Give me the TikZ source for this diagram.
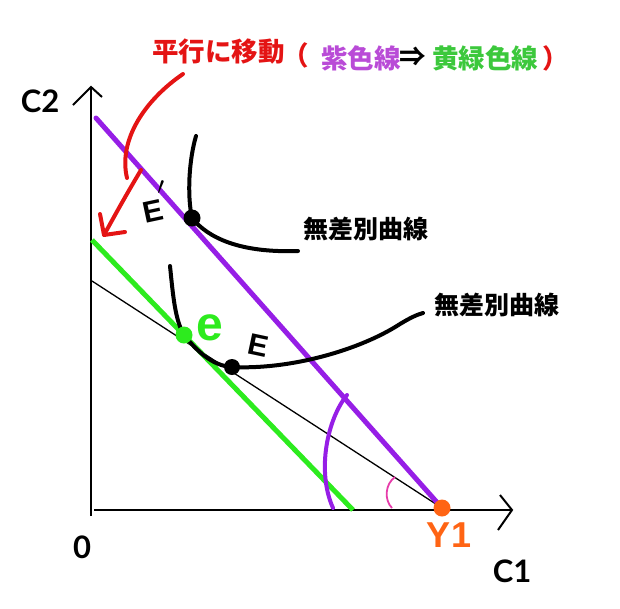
\documentclass[tikz,border=0pt]{standalone}
\usepackage{fontspec}
\setmainfont{Lato}
\newfontfamily\jp{Noto Sans CJK JP}
\newfontfamily\hand{Liberation Sans}
\definecolor{purp}{RGB}{150,30,230}
\definecolor{purptxt}{RGB}{185,75,215}
\definecolor{grn}{RGB}{45,235,30}
\definecolor{grntxt}{RGB}{60,200,60}
\definecolor{redc}{RGB}{228,20,20}
\definecolor{orng}{RGB}{255,100,20}
\definecolor{mag}{RGB}{230,60,170}
\tikzset{
  axisline/.style={line width=2pt,black},
  budget/.style={line width=5pt,purp,line cap=round},
  budgetnew/.style={line width=5pt,grn},
  thinline/.style={line width=1.3pt,black},
  icurve/.style={line width=4pt,black,line cap=round},
  redstroke/.style={line width=4pt,redc,line cap=round,line join=round},
  jplabel/.style={font=\jp\bfseries\fontsize{25}{25}\selectfont,inner sep=0pt},
  titlelabel/.style={font=\jp\bfseries\fontsize{26.5}{26.5}\selectfont,inner sep=0pt},
  latlabel/.style={font=\bfseries\fontsize{31}{31}\selectfont,inner sep=0pt},
  handlabel/.style={font=\hand\bfseries\fontsize{30}{30}\selectfont,inner sep=0pt},
  dot/.style={circle,fill,inner sep=0pt,minimum size=#1}
}
\begin{document}
\begin{tikzpicture}[x=1pt,y=-1pt]
\useasboundingbox (0,0) rectangle (620,608);
% coordinates
\coordinate (ytop) at (91,87);
\coordinate (ybot) at (91,516);
\coordinate (xl) at (94,510);
\coordinate (xtip) at (512,510);
\coordinate (ya1) at (73,105);
\coordinate (ya2) at (102,97);
\coordinate (xa1) at (500,495);
\coordinate (xa2) at (498,530);
\coordinate (pstart) at (96,118);
\coordinate (Y1) at (442,508);
\coordinate (gstart) at (92,240);
\coordinate (gend) at (353,510);
\coordinate (tstart) at (92,281);
% axes
\draw[axisline] (ybot) -- (ytop);
\draw[axisline] (xl) -- (xtip);
\draw[axisline,line join=miter] (ya1) -- (ytop) -- (ya2);
\draw[axisline] (xa1) -- (xtip) -- (xa2);
% budget lines
\draw[thinline] (tstart) -- (Y1);
\draw[budgetnew] (gstart) -- (gend);
\draw[budget] (pstart) -- (Y1);
% arcs
\coordinate (pa1) at (347,395);
\coordinate (pa2) at (333,508);
\draw[line width=4pt,purp,line cap=round] (pa1) .. controls (328,418) and (316,470) .. (pa2);
\coordinate (ma1) at (395,477);
\coordinate (ma2) at (392,508);
\draw[line width=1.8pt,mag] (ma1) .. controls (385,484) and (384,500) .. (ma2);
% indifference curves
\coordinate (u0) at (196,136);
\coordinate (Eu) at (192,218);
\coordinate (u1) at (298,251);
\draw[icurve] (u0) .. controls (189,160) and (187,195) .. (Eu) .. controls (208,238) and (240,253) .. (u1);
\coordinate (l0) at (170,266);
\coordinate (e) at (184,335);
\coordinate (El) at (232,367);
\coordinate (l1) at (423,313);
\draw[icurve] (l0) .. controls (173,295) and (175,320) .. (e) .. controls (196,350) and (212,366) .. (El)
  .. controls (290,370) and (360,350) .. (400,324) .. controls (410,318) and (416,315) .. (l1);
% dots
\node[dot=17pt,black] (dEu) at (Eu) {};
\node[dot=16pt,black] (dEl) at (El) {};
\node[dot=17pt,grn] (de) at (e) {};
\node[dot=17pt,orng] (dY1) at (Y1) {};
% red arrow
\coordinate (r0) at (183,74);
\coordinate (r1) at (127,178);
\coordinate (r2) at (141,170);
\coordinate (rtip) at (104,235);
\coordinate (rh1) at (100,214);
\coordinate (rh2) at (125,232);
\draw[redstroke] (r0) .. controls (145,100) and (118,140) .. (r1);
\draw[redstroke] (r2) .. controls (126,195) and (115,215) .. (rtip);
\draw[redstroke] (rh1) -- (rtip) -- (rh2);
% labels
\node[latlabel] (c2) at (40,101) {C2};
\node[latlabel] (zero) at (82,547) {0};
\node[latlabel] (c1) at (512,571) {C1};
\node[handlabel,orng,font=\hand\bfseries\fontsize{36}{36}\selectfont] (y1lab) at (449,535) {Y1};
\node[jplabel] (ic1) at (366,229) {無差別曲線};
\node[jplabel] (ic2) at (497,305) {無差別曲線};
\node[handlabel,rotate=-12] (Elab) at (258,345) {E};
\node[handlabel,grn,font=\hand\bfseries\fontsize{48}{48}\selectfont] (elab) at (210,328) {e};
\node[handlabel,rotate=12] (Eplab) at (153,211) {E};
\node[handlabel,font=\hand\bfseries\fontsize{40}{40}\selectfont] (prime) at (161,192) {$'$};
% title
\node[titlelabel,redc,anchor=west] (t1) at (152,52) {平行に移動};
\node[titlelabel,redc] (t2) at (296,55) {（};
\node[titlelabel,purptxt] (t3) at (361,58) {紫色線};
\node[titlelabel,black] (t4) at (413,57) {⇒};
\node[titlelabel,grntxt] (t5) at (485,58) {黄緑色線};
\node[titlelabel,redc] (t6) at (556,58) {）};
\end{tikzpicture}
\end{document}
